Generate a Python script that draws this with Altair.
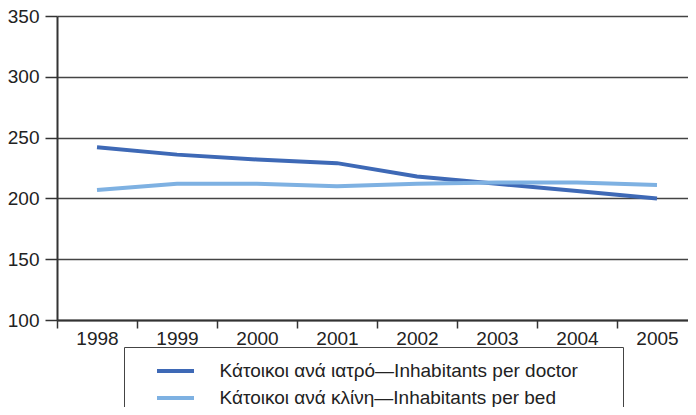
import altair as alt
import pandas as pd

years = ["1998", "1999", "2000", "2001", "2002", "2003", "2004", "2005"]
doctor = [242, 236, 232, 229, 218, 212, 206, 200]
bed = [207, 212, 212, 210, 212, 213, 213, 211]
series_names = [
    "Κάτοικοι ανά ιατρό—Inhabitants per doctor",
    "Κάτοικοι ανά κλίνη—Inhabitants per bed",
]
colors = ["#3e69b6", "#7eb1e2"]

rows = []
for y, v in zip(years, doctor):
    rows.append({"year": y, "value": v, "series": series_names[0]})
for y, v in zip(years, bed):
    rows.append({"year": y, "value": v, "series": series_names[1]})
df = pd.DataFrame(rows)

FONT = "Liberation Sans"

chart = (
    alt.Chart(df)
    .mark_line(strokeWidth=4)
    .encode(
        x=alt.X(
            "year:O",
            bandPosition=0.5,
            scale=alt.Scale(type="band", paddingInner=0, paddingOuter=0),
            axis=alt.Axis(
                title=None,
                labelAngle=0,
                tickBand="extent",
                tickSize=8,
                tickColor="#333333",
                tickWidth=1.5,
                domainColor="#333333",
                domainWidth=2,
                labelFontSize=19,
                labelFont=FONT,
                labelColor="#222222",
                labelPadding=1,
                grid=False,
            ),
        ),
        y=alt.Y(
            "value:Q",
            scale=alt.Scale(domain=[100, 350], nice=False, zero=False),
            axis=alt.Axis(
                title=None,
                values=[100, 150, 200, 250, 300, 350],
                tickSize=12,
                tickColor="#333333",
                tickWidth=1.5,
                domainColor="#333333",
                domainWidth=2,
                labelFontSize=19,
                labelFont=FONT,
                labelColor="#222222",
                labelPadding=6,
                grid=True,
                gridColor="#444444",
                gridWidth=1.5,
                gridOpacity=1,
            ),
        ),
        color=alt.Color(
            "series:N",
            scale=alt.Scale(domain=series_names, range=colors),
            sort=series_names,
            legend=alt.Legend(
                title=" ",
                titleOrient="right",
                titleFontSize=1,
                titlePadding=33,
                orient="none",
                legendX=67,
                legendY=331,
                direction="vertical",
                symbolType="M-1.85,0L1.85,0",
                symbolSize=400,
                symbolStrokeWidth=4,
                symbolOffset=27.5,
                labelOffset=32,
                labelFontSize=19,
                labelFont=FONT,
                labelColor="#222222",
                labelLimit=600,
                rowPadding=5,
                padding=12,
                strokeColor="#444444",
                fillColor="white",
            ),
        ),
    )
    .properties(
        width=640,
        height=304,
        autosize=alt.AutoSizeParams(type="none"),
        padding={"left": 49, "top": 8, "right": -9, "bottom": 87},
    )
    .configure_view(stroke=None)
)

chart.save("out.html", embed_options={"renderer": "svg", "actions": False})
